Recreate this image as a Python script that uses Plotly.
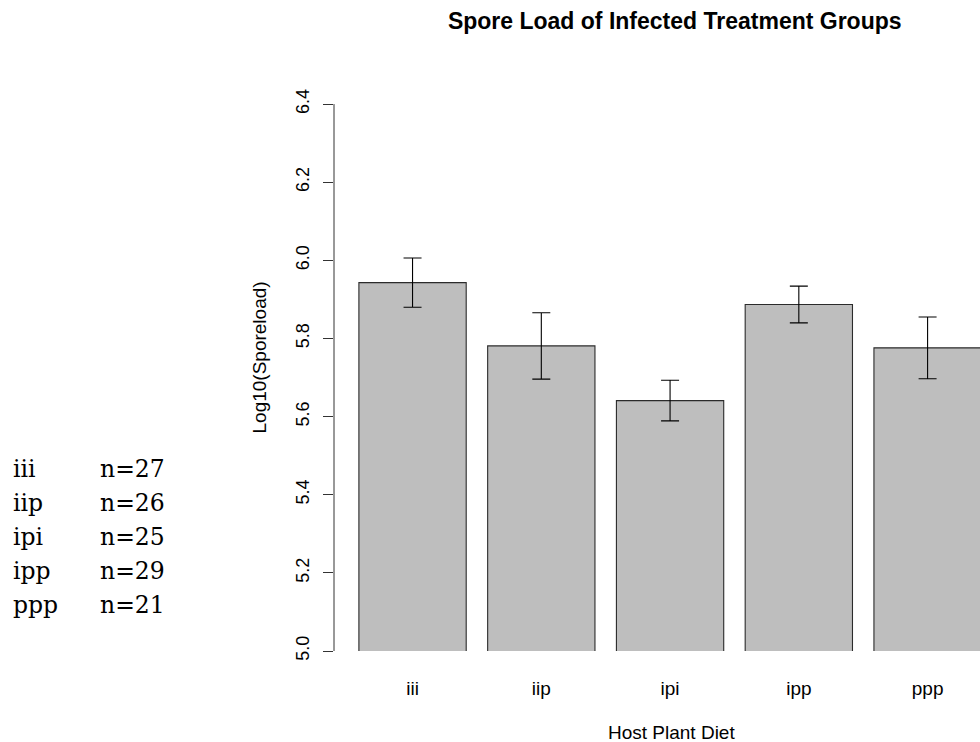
import plotly.graph_objects as go

# ---- data ----
groups = ["iii", "iip", "ipi", "ipp", "ppp"]
means = [5.943, 5.781, 5.641, 5.887, 5.776]
se = [0.063, 0.085, 0.052, 0.047, 0.079]
sample_sizes = [27, 26, 25, 29, 21]
y_ticks = [5.0, 5.2, 5.4, 5.6, 5.8, 6.0, 6.2, 6.4]
y_tick_text = ["5.0", "5.2", "5.4", "5.6", "5.8", "6.0", "6.2", "6.4"]

W, H = 980, 742
ML, MR, MT, MB = 333.5, 0, 65, 91
PW = W - ML - MR
PH = H - MT - MB

SANS = "Liberation Sans, Arial, Helvetica, sans-serif"
SERIF = "DejaVu Serif, serif"

fig = go.Figure()
fig.add_trace(go.Bar(
    x=groups, y=means,
    marker=dict(color="#bebebe", line=dict(color="#2b2b2b", width=1.1)),
    error_y=dict(type="data", array=se, visible=True, color="black",
                 thickness=1.1, width=9),
    hoverinfo="x+y",
))

# y axis line spanning only tick range (R style)
fig.add_shape(type="line", xref="paper", yref="y", x0=0, x1=0,
              y0=min(y_ticks), y1=max(y_ticks),
              line=dict(color="#333333", width=1))

fig.update_layout(
    width=W, height=H,
    margin=dict(l=ML, r=MR, t=MT, b=MB, pad=0),
    plot_bgcolor="white", paper_bgcolor="white",
    showlegend=False, bargap=1/6,
    font=dict(family=SANS, color="black"),
    title=dict(text="<b>Spore Load of Infected Treatment Groups</b>",
               x=(674.5 - ML) / PW, xref="paper", xanchor="center",
               y=1 - 21 / H, yref="container", yanchor="middle",
               font=dict(size=23, family=SANS, color="black")),
    xaxis=dict(range=[-0.61, 4.407], showline=False, showgrid=False,
               zeroline=False, ticks="outside", ticklen=20,
               tickcolor="rgba(0,0,0,0)",
               tickfont=dict(size=19, family=SANS, color="black")),
    yaxis=dict(range=[5.0, 6.5], tickvals=y_ticks, ticktext=y_tick_text,
               showline=False, showgrid=False, zeroline=False,
               ticks="outside", ticklen=10, tickcolor="#333333", tickwidth=1,
               tickangle=-90, ticklabelstandoff=7,
               tickfont=dict(size=18, family=SANS, color="black")),
)

# axis titles
fig.add_annotation(text="Host Plant Diet", xref="paper", yref="paper",
                   x=(671 - ML) / PW, y=0, yshift=-(732 - (H - MB)),
                   xanchor="center", yanchor="middle", showarrow=False,
                   font=dict(size=19, family=SANS, color="black"))
fig.add_annotation(text="Log10(Sporeload)", xref="paper", yref="paper",
                   x=0, xshift=258 - ML, y=0.5, textangle=-90,
                   xanchor="center", yanchor="middle", showarrow=False,
                   font=dict(size=19, family=SANS, color="black"))

# sample size table on the left
row_y = [469, 503, 537, 571, 605]
for g, n, py in zip(groups, sample_sizes, row_y):
    yy = (H - MB - py) / PH
    fig.add_annotation(text=g, xref="paper", yref="paper",
                       x=(10 - ML) / PW, y=yy, xanchor="left", yanchor="middle",
                       showarrow=False,
                       font=dict(size=23.5, family=SERIF, color="black"))
    fig.add_annotation(text=f"n={n}", xref="paper", yref="paper",
                       x=(97 - ML) / PW, y=yy, xanchor="left", yanchor="middle",
                       showarrow=False,
                       font=dict(size=23.5, family=SERIF, color="black"))

fig.write_html("out.html")
